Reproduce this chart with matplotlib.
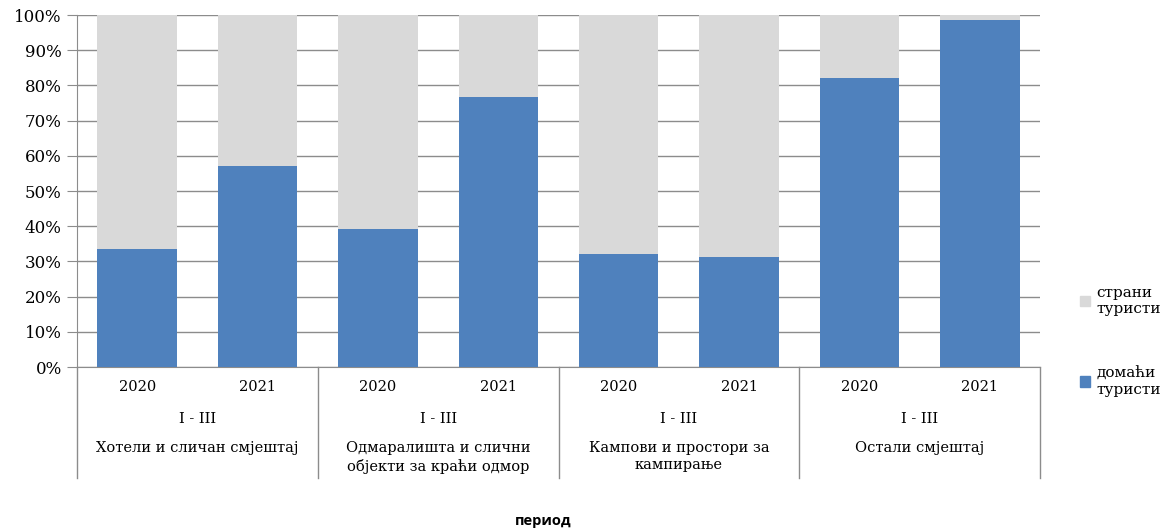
import numpy as np
import matplotlib
matplotlib.use("Agg")
import matplotlib.pyplot as plt
from matplotlib.patches import Patch

years = ["2020", "2021"] * 4
period = "I - III"
groups = ["Хотели и сличан смјештај",
          "Одмаралишта и слични\nобјекти за краћи одмор",
          "Кампови и простори за\nкампирање",
          "Остали смјештај"]
domestic = [33.5, 57.1, 39.2, 76.7, 32.1, 31.3, 82.1, 98.6]
foreign = [100 - v for v in domestic]

blue = "#4F81BD"
grey = "#D9D9D9"
line_c = "#8C8C8C"
serif = "DejaVu Serif"

fig = plt.figure(figsize=(11.66, 5.32), dpi=100)
ax = fig.add_axes([77 / 1166, 1 - 367 / 532, (1040 - 77) / 1166, 352 / 532])

x = np.arange(len(domestic))
ax.bar(x, domestic, width=0.66, color=blue, zorder=3)
ax.bar(x, foreign, bottom=domestic, width=0.66, color=grey, zorder=3)

ax.set_xlim(-0.5, len(domestic) - 0.5)
ax.set_ylim(0, 100)
ax.set_yticks(np.arange(0, 101, 10))
ax.set_yticklabels([f"{v}%" for v in range(0, 101, 10)], fontsize=12, family=serif)
ax.tick_params(axis="y", length=7, color=line_c, pad=4)
ax.yaxis.grid(True, color=line_c, lw=1, zorder=0)
ax.set_xticks([])
for s in ["top", "right"]:
    ax.spines[s].set_visible(False)
ax.spines["left"].set_color(line_c)
ax.spines["bottom"].set_color(line_c)

tr = ax.get_xaxis_transform()
# group separators
for b in [-0.5, 1.5, 3.5, 5.5, 7.5]:
    ax.plot([b, b], [0, -0.315], color=line_c, lw=1, transform=tr, clip_on=False)

for i, yr in enumerate(years):
    ax.text(i, -0.057, yr, ha="center", va="center", fontsize=10.5,
            family=serif, transform=tr)
for g, name in enumerate(groups):
    xc = 2 * g + 0.5
    ax.text(xc, -0.148, period, ha="center", va="center", fontsize=10.5,
            family=serif, transform=tr)
    ax.text(xc, -0.21, name, ha="center", va="top", fontsize=10.5,
            family=serif, transform=tr, linespacing=1.3)

fig.text(543 / 1166, 1 - 521 / 532, "период", ha="center", va="center",
         fontsize=10.5, fontweight="bold", family="Open Sans")

handles = [Patch(color=grey), Patch(color=blue)]
fig.legend(handles, ["страни\nтуристи", "домаћи\nтуристи"],
           loc="upper left", bbox_to_anchor=(1066 / 1166, 1 - 272 / 532),
           frameon=False, handlelength=0.7, handleheight=0.7, handletextpad=0.4,
           labelspacing=3.3, prop={"family": serif, "size": 11})

fig.savefig("out.png", dpi=100)
